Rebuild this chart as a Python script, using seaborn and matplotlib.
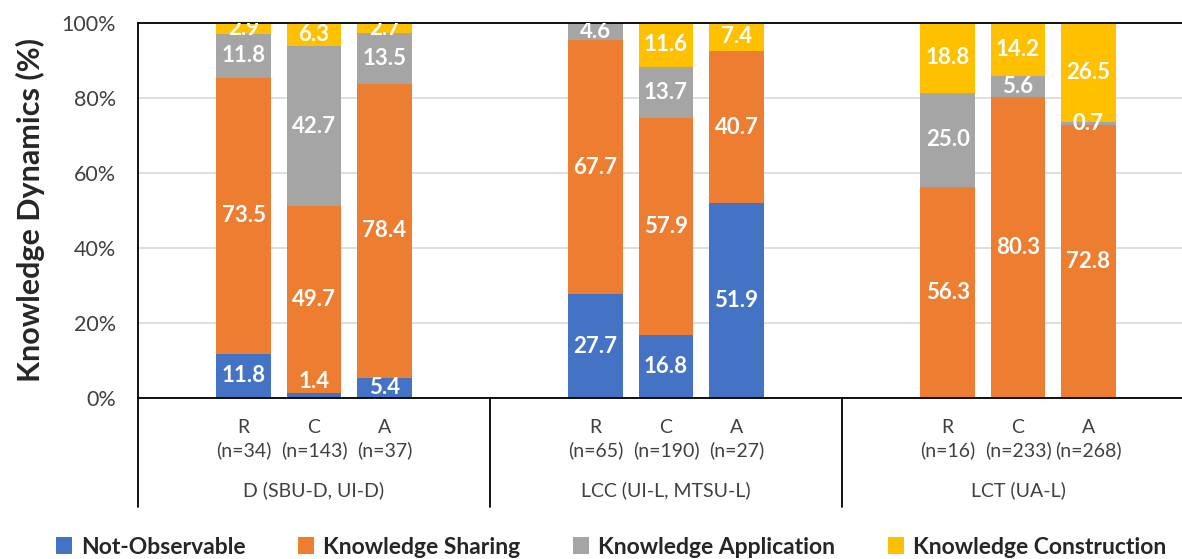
import numpy as np
import pandas as pd
import matplotlib
matplotlib.use("Agg")
import matplotlib.pyplot as plt
import matplotlib.transforms as mtransforms
from matplotlib.patches import Patch
import seaborn as sns

groups = ['D (SBU-D, UI-D)', 'LCC (UI-L, MTSU-L)', 'LCT (UA-L)']
phases = ['R', 'C', 'A']
counts = [[34, 143, 37], [65, 190, 27], [16, 233, 268]]
series = ['Not-Observable', 'Knowledge Sharing', 'Knowledge Application', 'Knowledge Construction']
colors = ['#4472C4', '#ED7D31', '#A5A5A5', '#FFC000']

# percentages per bar (D R,C,A / LCC R,C,A / LCT R,C,A)
not_obs = [11.8, 1.4, 5.4, 27.7, 16.8, 51.9, 0.0, 0.0, 0.0]
sharing = [73.5, 49.7, 78.4, 67.7, 57.9, 40.7, 56.3, 80.3, 72.8]
application = [11.8, 42.7, 13.5, 4.6, 13.7, 0.0, 25.0, 5.6, 0.7]
construction = [2.9, 6.3, 2.7, 0.0, 11.6, 7.4, 18.8, 14.2, 26.5]

layers = [not_obs, sharing, application, construction]

sns.set_style("white")
plt.rcParams['font.family'] = ['Lato', 'DejaVu Sans']

# 5 slots per group: blank, R, C, A, blank
pos = [5 * g + 1 + i for g in range(3) for i in range(3)]

fig = plt.figure(figsize=(11.82, 5.59), dpi=100)
ax = fig.add_axes([138 / 1182, 161 / 559, 1 - 138 / 1182, 375 / 559])

cum = np.cumsum(np.array(layers), axis=0)
# draw cumulative totals from the top layer down so each layer shows through
for k in range(3, -1, -1):
    df = pd.DataFrame({'x': pos, 'y': cum[k]})
    sns.barplot(data=df, x='x', y='y', native_scale=True, color=colors[k],
                width=0.78, linewidth=0, saturation=1, ax=ax, zorder=2)

# value labels
for k in range(4):
    base = cum[k] - np.array(layers[k])
    for j, v in enumerate(layers[k]):
        if v <= 0:
            continue
        mid = base[j] + v / 2
        if k == 0 and v < 2:
            mid = 4.3
        ax.text(pos[j], mid, f'{v:.1f}', ha='center', va='center', color='white',
                fontsize=16, fontweight='bold', clip_on=True, zorder=5)

ax.set_xlim(-0.5, -0.5 + 1044 / 70.4)
ax.set_ylim(0, 100)
ax.set_yticks([0, 20, 40, 60, 80, 100])
ax.set_yticklabels([f'{t}%' for t in range(0, 101, 20)], fontsize=15.5, color='#404040')
ax.yaxis.grid(True, color='#D9D9D9', linewidth=1.2, zorder=0)
ax.set_axisbelow(True)
ax.tick_params(axis='y', length=0, pad=16)
ax.tick_params(axis='x', length=0, pad=15)

ax.set_xticks(pos)
ax.set_xticklabels([f'{phases[i]}\n(n={counts[g][i]})' for g in range(3) for i in range(3)],
                   fontsize=14, color='#404040', linespacing=1.35)
ax.set_xlabel('')
ax.set_ylabel('Knowledge Dynamics (%)', fontsize=22, fontweight='bold', labelpad=12)

for s in ['left', 'top', 'bottom']:
    ax.spines[s].set_color('black')
    ax.spines[s].set_linewidth(1.3)
ax.spines['right'].set_visible(False)

trans = mtransforms.blended_transform_factory(ax.transData, ax.transAxes)
for g in range(3):
    ax.plot([5 * g - 0.5, 5 * g - 0.5], [0, -109 / 375], color='black', lw=1.3,
            transform=trans, clip_on=False)
    ax.text(5 * g + 2, -92 / 375, groups[g], transform=trans, ha='center', va='center',
            fontsize=14, color='#404040')
ax.plot([14.5, 14.5], [0, -109 / 375], color='black', lw=1.3, transform=trans, clip_on=False)

handles = [Patch(facecolor=c, edgecolor='none') for c in colors]
fig.legend(handles, series, loc='center', bbox_to_anchor=(611 / 1182, 12 / 559), ncol=4,
           frameon=False, prop={'size': 16.5, 'weight': 'bold'}, handlelength=0.7,
           handleheight=0.7, handletextpad=0.4, columnspacing=2.3)

fig.savefig('out.png', dpi=100)
